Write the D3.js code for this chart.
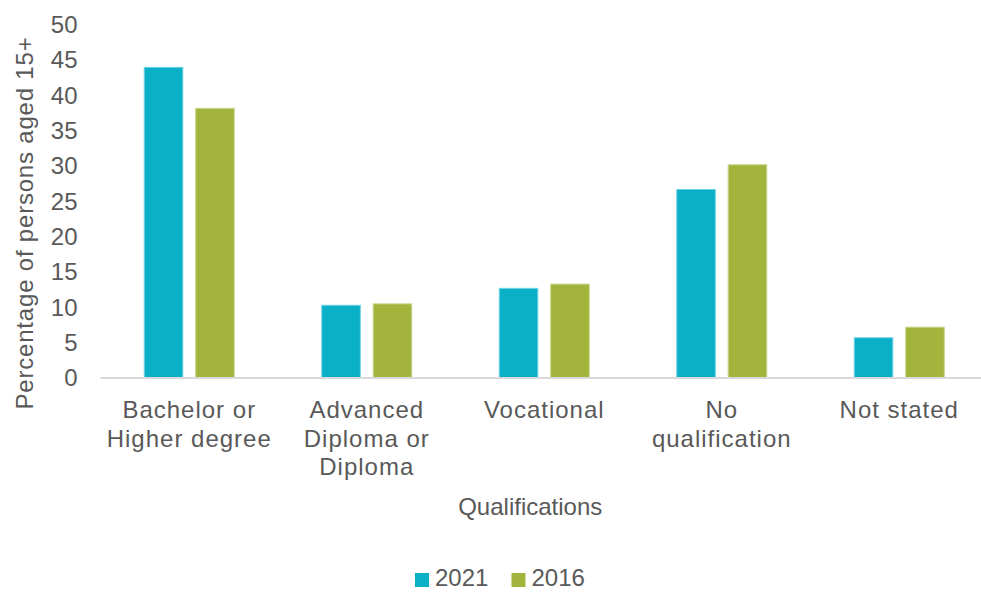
<!DOCTYPE html>
<html>
<head>
<meta charset="utf-8">
<script src="https://cdn.jsdelivr.net/npm/d3@7"></script>
<style>
  html, body { margin: 0; padding: 0; background: #fff; }
  text { font-family: "Liberation Sans", Arial, sans-serif; fill: #595959; }
</style>
</head>
<body>
<svg id="chart" width="981" height="592"></svg>
<script>
// values
const categories = ["Bachelor or\nHigher degree", "Advanced\nDiploma or\nDiploma", "Vocational", "No\nqualification", "Not stated"];
const series = ["2021", "2016"];
const values2021 = [44.0, 10.3, 12.7, 26.7, 5.7];
const values2016 = [38.2, 10.5, 13.3, 30.2, 7.2];
const yTicks = [0, 5, 10, 15, 20, 25, 30, 35, 40, 45, 50];
const colors = ["#0aafc8", "#a3b43c"];
const strokes = ["#6fd2e2", "#c9d48c"];

const svg = d3.select('#chart');
const margin = {top: 25, right: -7, bottom: 214, left: 100.5};
const width = 981 - margin.left - margin.right;
const height = 592 - margin.top - margin.bottom;

const g = svg.append('g').attr('transform', 'translate(' + margin.left + ',' + margin.top + ')');

const x0 = d3.scaleBand().domain(categories).range([0, width]).padding(0);
const x1 = d3.scaleBand().domain(series).range([-45, 45]).paddingInner(0.25);
const y = d3.scaleLinear().domain([0, 50]).range([height, 0]);

const rows = categories.map((c, i) => ({cat: c, vals: [values2021[i], values2016[i]]}));

// bars
const groups = g.selectAll('.grp').data(rows).enter().append('g')
    .attr('class', 'grp')
    .attr('transform', (d) => 'translate(' + (x0(d.cat) + x0.bandwidth() / 2) + ',0)');

groups.selectAll('rect')
    .data((d) => d.vals.map((v, i) => ({key: series[i], v: v, i: i})))
    .enter().append('rect')
    .attr('x', (d) => x1(d.key))
    .attr('width', x1.bandwidth())
    .attr('y', (d) => y(d.v))
    .attr('height', (d) => y(0) - y(d.v))
    .attr('fill', (d) => colors[d.i])
    .attr('stroke', (d) => strokes[d.i])
    .attr('stroke-width', 1);

// y axis (labels only)
const yAxis = g.append('g')
    .call(d3.axisLeft(y).tickValues(yTicks).tickSize(0).tickPadding(23));
yAxis.select('.domain').remove();
yAxis.selectAll('text').style('font-size', '24px').attr('fill', '#595959');

// x axis baseline
g.append('line')
    .attr('x1', 0).attr('x2', width)
    .attr('y1', y(0)).attr('y2', y(0))
    .attr('stroke', '#d9d9d9').attr('stroke-width', 2);

// category labels
const xAxis = g.append('g').attr('transform', 'translate(0,' + height + ')')
    .call(d3.axisBottom(x0).tickSize(0).tickFormat(''));
xAxis.select('.domain').remove();
xAxis.selectAll('.tick').append('text')
    .attr('text-anchor', 'middle')
    .style('font-size', '24px')
    .style('letter-spacing', '1px')
    .selectAll('tspan')
    .data((d) => d.split('\n'))
    .enter().append('tspan')
    .attr('x', 0)
    .attr('y', (d, i) => 40 + i * 28.5)
    .text((d) => d);

// axis titles
svg.append('text')
    .attr('x', margin.left + width / 2 - 14)
    .attr('y', 515)
    .attr('text-anchor', 'middle')
    .style('font-size', '24px')
    .text('Qualifications');

svg.append('text')
    .attr('transform', 'translate(33,223) rotate(-90)')
    .attr('text-anchor', 'middle')
    .style('font-size', '24px')
    .style('letter-spacing', '0.8px')
    .text('Percentage of persons aged 15+');

// legend
const legend = svg.append('g').attr('transform', 'translate(415,573)');
const items = legend.selectAll('g').data(series).enter().append('g')
    .attr('transform', (d, i) => 'translate(' + (i * 96.5) + ',0)');
items.append('rect').attr('width', 14).attr('height', 14)
    .attr('fill', (d, i) => colors[i]);
items.append('text').attr('x', 20).attr('y', 13)
    .style('font-size', '24px')
    .text((d) => d);
</script>
</body>
</html>
